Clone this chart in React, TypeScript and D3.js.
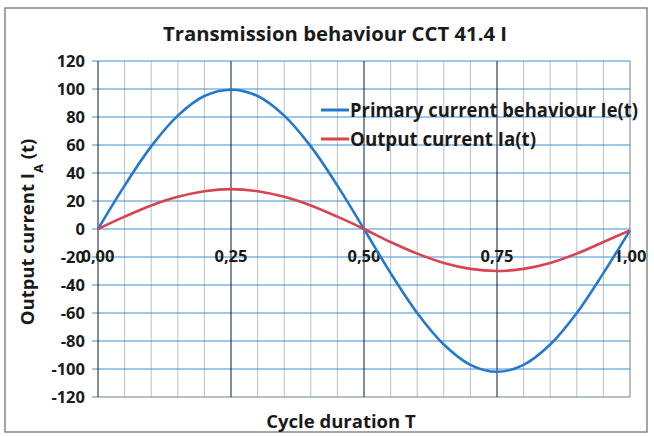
import * as d3 from 'd3';
import { useRef, useEffect } from 'react';

// cycle position (T) sampled every 0.05
const cycle = [0, 0.05, 0.1, 0.15, 0.2, 0.25, 0.3, 0.35, 0.4, 0.45, 0.5, 0.55, 0.6, 0.65, 0.7, 0.75, 0.8, 0.85, 0.9, 0.95, 1];
const primary = [0, 31, 59, 81, 95, 99.5, 95, 81, 59, 31, 0, -31.5, -60, -82.5, -97, -102, -97, -82.5, -60, -31.5, -1];
const output = [0, 8.8, 16.8, 23, 27, 28.5, 27, 23, 16.8, 8.8, 0, -9.3, -17.6, -24.3, -28.5, -30, -28.5, -24.3, -17.6, -9.3, -1];
const yTicks = [-120, -100, -80, -60, -40, -20, 0, 20, 40, 60, 80, 100, 120];
const xTicks = [0, 0.25, 0.5, 0.75, 1];
const xMinor = [0.05, 0.1, 0.15, 0.2, 0.3, 0.35, 0.4, 0.45, 0.55, 0.6, 0.65, 0.7, 0.8, 0.85, 0.9, 0.95];
const seriesNames = ['Primary current behaviour Ie(t)', 'Output current Ia(t)'];
const seriesColors = ['#2479cc', '#d8434f'];

const font = "'Open Sans', sans-serif";

const Chart = () => {
    const ref: any = useRef();
    const W = 654, H = 436;
    const plot = { left: 98, right: 630, top: 61, bottom: 397 };

    useEffect(() => {
        document.body.style.margin = '0';
        const svg = d3.select(ref.current);
        svg.selectAll('*').remove();

        const x = d3.scaleLinear().domain([0, 1]).range([plot.left, plot.right]);
        const y = d3.scaleLinear().domain([-120, 120]).range([plot.bottom, plot.top]);

        svg.append('rect').attr('width', W).attr('height', H).attr('fill', '#fff');
        // outer frame
        svg.append('rect')
            .attr('x', 5).attr('y', 8).attr('width', 642).attr('height', 424)
            .attr('fill', 'none').attr('stroke', '#6a6a6a').attr('stroke-width', 1.2);

        // minor vertical grid
        svg.append('g').selectAll('line').data(xMinor).enter().append('line')
            .attr('x1', d => x(d)).attr('x2', d => x(d))
            .attr('y1', plot.top).attr('y2', plot.bottom)
            .attr('stroke', '#b9bfcc').attr('stroke-width', 1);

        // horizontal grid + ticks
        svg.append('g').selectAll('line').data(yTicks).enter().append('line')
            .attr('x1', plot.left - 6).attr('x2', plot.right)
            .attr('y1', d => y(d)).attr('y2', d => y(d))
            .attr('stroke', d => d === -120 ? '#6f8296' : '#3d92d4').attr('stroke-width', 1.1);

        // major vertical grid
        svg.append('g').selectAll('line').data(xTicks).enter().append('line')
            .attr('x1', d => x(d)).attr('x2', d => x(d))
            .attr('y1', plot.top).attr('y2', plot.bottom)
            .attr('stroke', d => d === 1 ? '#7f8794' : '#1f2d4a').attr('stroke-width', 1.1);

        // y tick labels
        svg.append('g').selectAll('text').data(yTicks).enter().append('text')
            .attr('x', 85).attr('y', d => y(d)).attr('dy', '0.36em')
            .attr('text-anchor', 'end')
            .style('font-family', font).style('font-weight', 700).style('font-size', '16.5px')
            .attr('fill', '#1a1a1a')
            .text(d => d);

        // x tick labels sit along the zero line
        svg.append('g').selectAll('text').data(xTicks).enter().append('text')
            .attr('x', d => x(d)).attr('y', y(0) + 33)
            .attr('text-anchor', 'middle')
            .style('font-family', font).style('font-weight', 700).style('font-size', '16.5px')
            .attr('fill', '#1a1a1a')
            .text(d => d3.format('.2f')(d).replace('.', ','));

        const line = d3.line<number>()
            .x((d, i) => x(cycle[i]))
            .y(d => y(d))
            .curve(d3.curveCatmullRom.alpha(0.5));

        [primary, output].forEach((s, i) => {
            svg.append('path').datum(s)
                .attr('d', line)
                .attr('fill', 'none')
                .attr('stroke', seriesColors[i])
                .attr('stroke-width', 2.6);
        });

        // legend (no background, grid shows through)
        const lg = svg.append('g');
        const legendLen = [288, 186];
        seriesNames.forEach((n, i) => {
            const ly = 110 + i * 29;
            lg.append('line')
                .attr('x1', 321).attr('x2', 349).attr('y1', ly).attr('y2', ly)
                .attr('stroke', seriesColors[i]).attr('stroke-width', 3);
            lg.append('text')
                .attr('x', 350).attr('y', ly).attr('dy', '0.36em')
                .attr('textLength', legendLen[i]).attr('lengthAdjust', 'spacingAndGlyphs')
                .style('font-family', font).style('font-weight', 700).style('font-size', '19px')
                .attr('fill', '#1a1a1a')
                .text(n);
        });

        // title
        svg.append('text')
            .attr('x', 335).attr('y', 41).attr('text-anchor', 'middle')
            .attr('textLength', 344).attr('lengthAdjust', 'spacingAndGlyphs')
            .style('font-family', font).style('font-weight', 700).style('font-size', '20px')
            .attr('fill', '#1a1a1a')
            .text('Transmission behaviour CCT 41.4 I');

        // x axis title
        svg.append('text')
            .attr('x', 341).attr('y', 428).attr('text-anchor', 'middle')
            .style('font-family', font).style('font-weight', 700).style('font-size', '18.5px')
            .attr('fill', '#1a1a1a')
            .text('Cycle duration T');

        // y axis title with subscript
        const yt = svg.append('text')
            .attr('transform', 'translate(34,232) rotate(-90)')
            .attr('text-anchor', 'middle')
            .style('font-family', font).style('font-weight', 700).style('font-size', '18.5px')
            .attr('fill', '#1a1a1a');
        yt.append('tspan').text('Output current I');
        yt.append('tspan').attr('baseline-shift', 'sub').style('font-size', '13px').text('A');
        yt.append('tspan').text(' (t)');
    }, []);

    return (
        <div className="chart">
            <svg ref={ref} width={W} height={H} style={{ display: 'block' }}>
            </svg>
        </div>
    );
};

export default function App() {
    return <Chart />;
}
